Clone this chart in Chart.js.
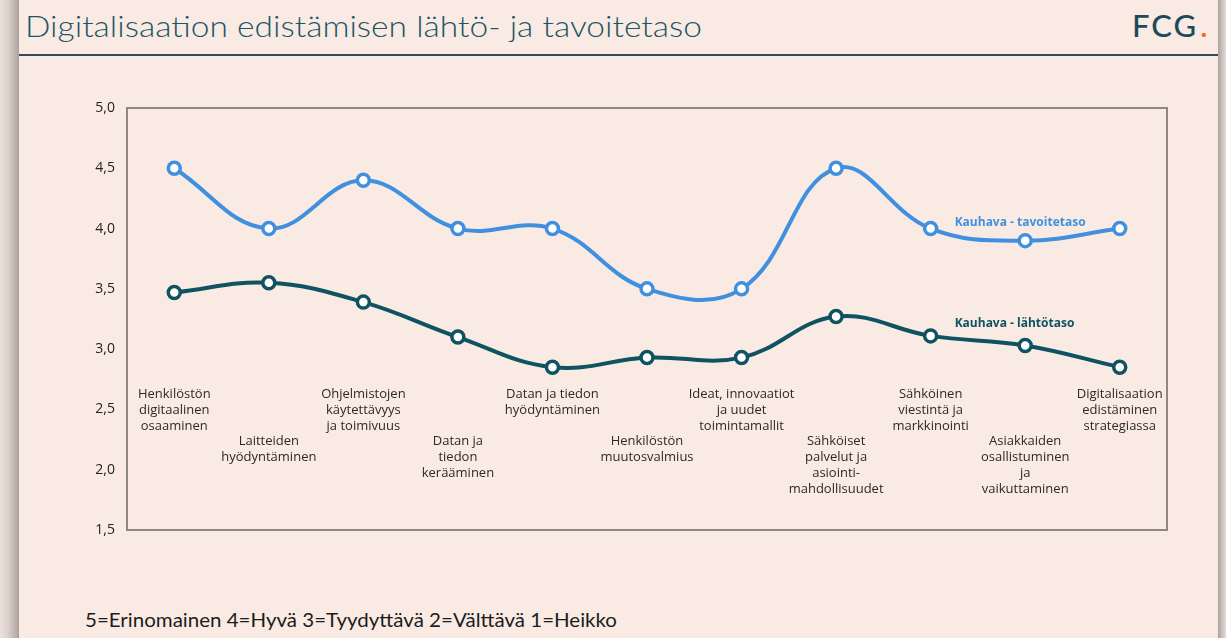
<!DOCTYPE html>
<html>
<head>
<meta charset="utf-8">
<script src="https://cdn.jsdelivr.net/npm/chart.js@4.4.1/dist/chart.umd.min.js"></script>
<style>
  html, body { margin: 0; padding: 0; }
  body { width: 1226px; height: 638px; background: #f9ebe4; position: relative; overflow: hidden; font-family: Lato, sans-serif; }
  .edge-left { position: absolute; left: 0; top: 0; width: 19px; height: 638px;
    background: linear-gradient(to right, #ebe0da, #ddd2cc 40%, #b8afaa 85%, #a8a09b); }
  .edge-right { position: absolute; right: 0; top: 0; width: 8px; height: 638px;
    background: linear-gradient(to right, #a8a09b, #c4bbb6 40%, #e6dcd6); }
  .title { position: absolute; left: 25px; top: 10px; font-size: 30px; font-weight: 300; color: #1e5566;
    white-space: nowrap; line-height: 30px; transform-origin: left top; }
  .logo { position: absolute; left: 1132px; top: 10px; font-family: Lato, sans-serif; font-size: 31px; font-weight: 500;
    color: #1b4a59; line-height: 30px; letter-spacing: 2px; }
  .logo span { color: #f26522; margin-left: 2px; }
  .rule { position: absolute; left: 19px; top: 54px; width: 1199px; height: 2px; background: #2f4d58; }
  .scale-note { position: absolute; left: 85px; top: 609px; font-size: 19px; font-weight: 400; color: #1c1c1c; white-space: nowrap;
    line-height: 22px; transform-origin: left top; }
  #wrap { position: absolute; left: 0; top: 0; width: 1226px; height: 638px; }
</style>
</head>
<body>
<div class="edge-left"></div>
<div class="edge-right"></div>
<div class="title" id="title">Digitalisaation edistämisen lähtö- ja tavoitetaso</div>
<div class="logo">FCG<span>.</span></div>
<div class="rule"></div>
<div class="scale-note" id="note">5=Erinomainen 4=Hyvä 3=Tyydyttävä 2=Välttävä 1=Heikko</div>
<div id="wrap"><canvas id="chart"></canvas></div>
<script>
// categories (one array of lines per label)
const categories = [
    ["Henkilöstön", "digitaalinen", "osaaminen"],
    ["Laitteiden", "hyödyntäminen"],
    ["Ohjelmistojen", "käytettävyys", "ja toimivuus"],
    ["Datan ja", "tiedon", "kerääminen"],
    ["Datan ja tiedon", "hyödyntäminen"],
    ["Henkilöstön", "muutosvalmius"],
    ["Ideat, innovaatiot", "ja uudet", "toimintamallit"],
    ["Sähköiset", "palvelut ja", "asiointi-", "mahdollisuudet"],
    ["Sähköinen", "viestintä ja", "markkinointi"],
    ["Asiakkaiden", "osallistuminen", "ja", "vaikuttaminen"],
    ["Digitalisaation", "edistäminen", "strategiassa"]
];
const tavoitetaso = [4.5, 4.0, 4.4, 4.0, 4.0, 3.5, 3.5, 4.5, 4.0, 3.9, 4.0];
const lahtotaso = [3.47, 3.55, 3.39, 3.1, 2.85, 2.93, 2.93, 3.27, 3.11, 3.03, 2.85];
const seriesNames = ["Kauhava - tavoitetaso", "Kauhava - lähtötaso"];

// squeeze a text element to the width it has in the slide
function fitWidth(id, target) {
    const el = document.getElementById(id);
    const w = el.getBoundingClientRect().width;
    el.style.transform = "scaleX(" + (target / w) + ")";
}
fitWidth("title", 677);
fitWidth("note", 532);

const blue = "#4190df";
const dark = "#0f5262";

const boxPlugin = {
    id: "box",
    beforeDatasetsDraw(chart) {
        const a = chart.chartArea;
        const ctx = chart.ctx;
        ctx.save();
        ctx.strokeStyle = "#8d8884";
        ctx.lineWidth = 2;
        ctx.strokeRect(a.left, a.top, a.right - a.left, a.bottom - a.top);
        ctx.restore();
    },
    afterDatasetsDraw(chart) {
        const ctx = chart.ctx;
        const x = chart.scales.x;
        const y = chart.scales.y;
        ctx.save();
        // category labels, staggered in two rows
        ctx.font = "13px 'Open Sans'";
        ctx.fillStyle = "#2a2a2a";
        ctx.textAlign = "center";
        ctx.textBaseline = "middle";
        categories.forEach((lines, i) => {
            const top = i % 2 === 0 ? 394 : 441;
            lines.forEach((line, j) => {
                ctx.fillText(line, x.getPixelForValue(i), top + j * 16.2);
            });
        });
        // series names at the right end
        ctx.font = "bold 12px 'Open Sans'";
        ctx.textAlign = "left";
        ctx.fillStyle = blue;
        ctx.fillText(seriesNames[0], x.getPixelForValue(8) + 24, y.getPixelForValue(4.05));
        ctx.fillStyle = dark;
        ctx.fillText(seriesNames[1], x.getPixelForValue(8) + 24, y.getPixelForValue(3.21));
        ctx.restore();
    }
};

const ctx = document.getElementById("chart").getContext("2d");
const chart = new Chart(ctx, {
    "type": "line",
    "data": {
        "labels": categories,
        "datasets": [{
            "label": seriesNames[0],
            "data": tavoitetaso,
            "borderColor": blue,
            "borderWidth": 4,
            "tension": 0.4,
            "pointRadius": 6,
            "pointBorderWidth": 3.5,
            "pointBackgroundColor": "#ffffff",
            "pointBorderColor": blue
        }, {
            "label": seriesNames[1],
            "data": lahtotaso,
            "borderColor": dark,
            "borderWidth": 4,
            "tension": 0.4,
            "pointRadius": 6,
            "pointBorderWidth": 3.5,
            "pointBackgroundColor": "#ffffff",
            "pointBorderColor": dark
        }]
    },
    "options": {
        "responsive": true,
        "maintainAspectRatio": false,
        "animation": false,
        "layout": { "padding": { "left": 77, "right": 59, "top": 108, "bottom": 108 } },
        "plugins": {
            "legend": { "display": false },
            "tooltip": { "enabled": false }
        },
        "scales": {
            "x": {
                "display": false,
                "offset": true
            },
            "y": {
                "min": 1.5,
                "max": 5,
                "afterFit": function (scale) { scale.width = 50; },
                "grid": { "display": false, "drawTicks": false },
                "border": { "display": false },
                "ticks": {
                    "stepSize": 0.5,
                    "padding": 12,
                    "color": "#222222",
                    "font": { "family": "'Open Sans'", "size": 14 },
                    "callback": function (value) { return value.toFixed(1).replace(".", ","); }
                }
            }
        }
    },
    "plugins": [boxPlugin]
});
</script>
</body>
</html>
